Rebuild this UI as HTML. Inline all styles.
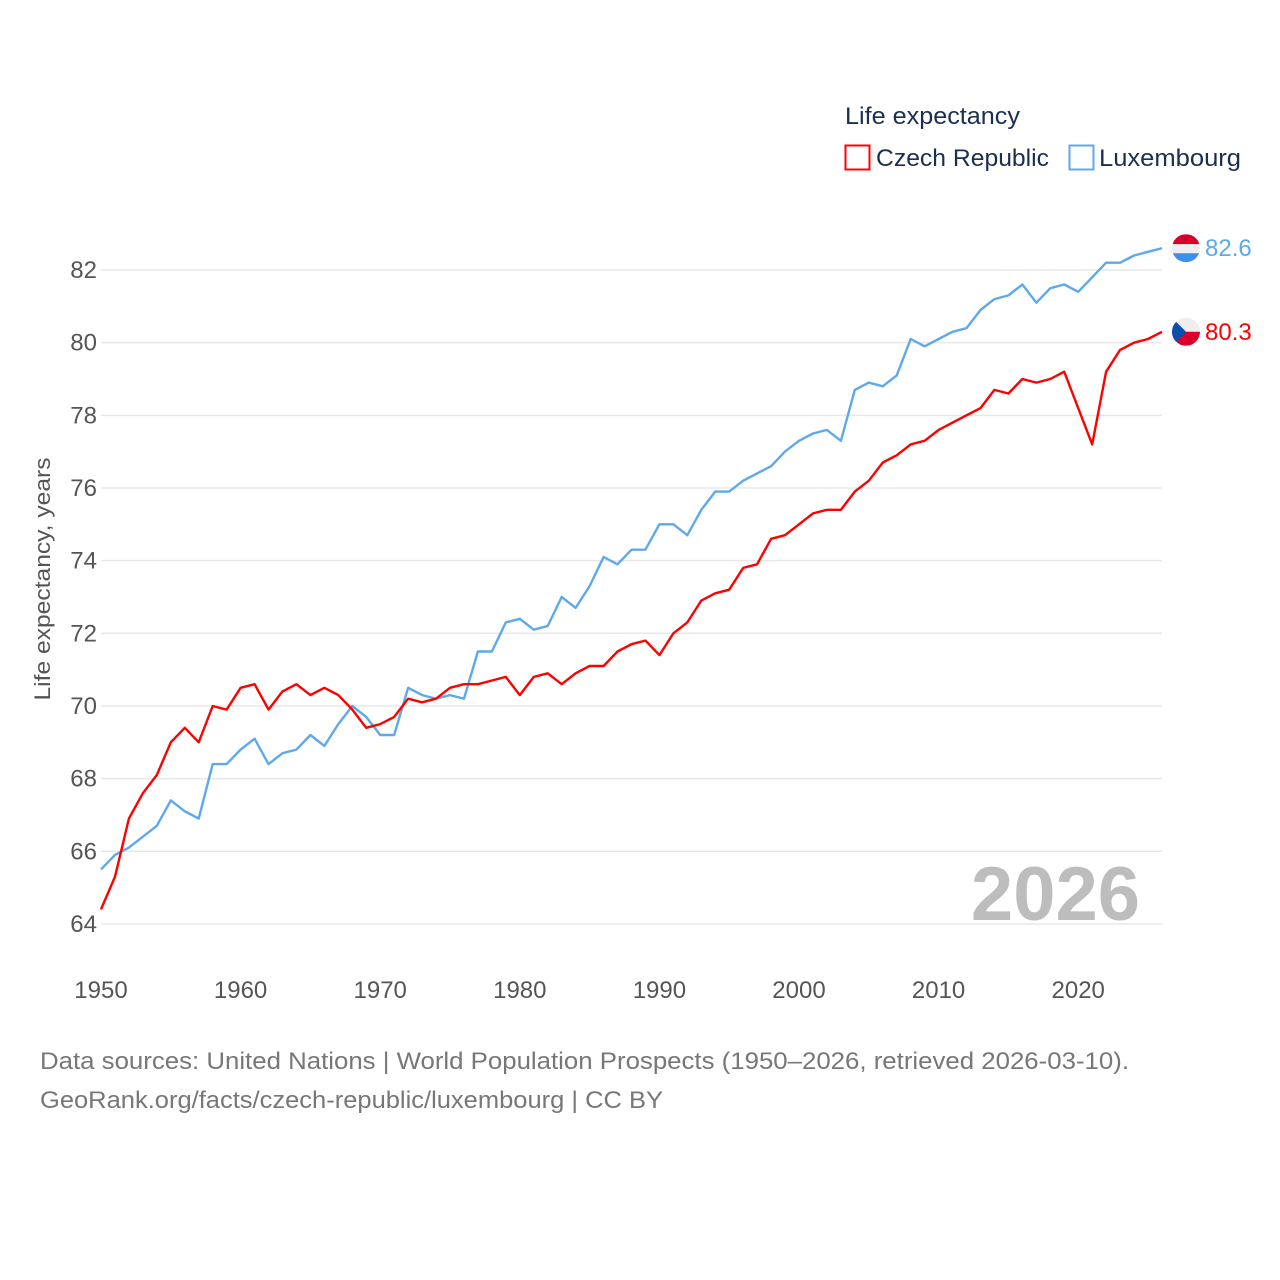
<!DOCTYPE html>
<html><head><meta charset="utf-8"><style>
body{margin:0;background:#fff;}
svg{display:block;font-family:"Liberation Sans",sans-serif;}
</style></head><body>
<svg id="chart" width="1280" height="1280" viewBox="0 0 1280 1280">
<g id="grid"></g>
<g id="yticks"></g>
<g id="xticks"></g>
<text x="1140" y="920" text-anchor="end" font-size="76" font-weight="bold" fill="#bdbdbd">2026</text>
<text transform="translate(50,579) rotate(-90)" text-anchor="middle" font-size="22" fill="#555" textLength="243" lengthAdjust="spacingAndGlyphs">Life expectancy, years</text>
<g id="lines"></g>
<g>
<text x="845" y="124" font-size="24" fill="#1b2f4f" textLength="175" lengthAdjust="spacingAndGlyphs">Life expectancy</text>
<rect x="845.5" y="145.5" width="24" height="24" fill="none" stroke="#ff0000" stroke-width="2"/>
<text x="876" y="166" font-size="24" fill="#1b2f4f" textLength="173" lengthAdjust="spacingAndGlyphs">Czech Republic</text>
<rect x="1069.5" y="145.5" width="24" height="24" fill="none" stroke="#5ea8ec" stroke-width="2"/>
<text x="1099" y="166" font-size="24" fill="#1b2f4f" textLength="142" lengthAdjust="spacingAndGlyphs">Luxembourg</text>
</g>
<text x="40" y="1069" font-size="24" fill="#777" textLength="1089" lengthAdjust="spacingAndGlyphs">Data sources: United Nations | World Population Prospects (1950–2026, retrieved 2026-03-10).</text>
<text x="40" y="1108" font-size="24" fill="#777" textLength="623" lengthAdjust="spacingAndGlyphs">GeoRank.org/facts/czech-republic/luxembourg | CC BY</text>
</svg>
<script>
const years=[];for(let y=1950;y<=2026;y++)years.push(y);
const czech=[64.4,65.3,66.9,67.6,68.1,69.0,69.4,69.0,70.0,69.9,70.5,70.6,69.9,70.4,70.6,70.3,70.5,70.3,69.9,69.4,69.5,69.7,70.2,70.1,70.2,70.5,70.6,70.6,70.7,70.8,70.3,70.8,70.9,70.6,70.9,71.1,71.1,71.5,71.7,71.8,71.4,72.0,72.3,72.9,73.1,73.2,73.8,73.9,74.6,74.7,75.0,75.3,75.4,75.4,75.9,76.2,76.7,76.9,77.2,77.3,77.6,77.8,78.0,78.2,78.7,78.6,79.0,78.9,79.0,79.2,78.2,77.2,79.2,79.8,80.0,80.1,80.3];
const luxembourg=[65.5,65.9,66.1,66.4,66.7,67.4,67.1,66.9,68.4,68.4,68.8,69.1,68.4,68.7,68.8,69.2,68.9,69.5,70.0,69.7,69.2,69.2,70.5,70.3,70.2,70.3,70.2,71.5,71.5,72.3,72.4,72.1,72.2,73.0,72.7,73.3,74.1,73.9,74.3,74.3,75.0,75.0,74.7,75.4,75.9,75.9,76.2,76.4,76.6,77.0,77.3,77.5,77.6,77.3,78.7,78.9,78.8,79.1,80.1,79.9,80.1,80.3,80.4,80.9,81.2,81.3,81.6,81.1,81.5,81.6,81.4,81.8,82.2,82.2,82.4,82.5,82.6];
const yTicks=[64,66,68,70,72,74,76,78,80,82];
const xTicks=[1950,1960,1970,1980,1990,2000,2010,2020];
const NS="http://www.w3.org/2000/svg";
function xs(y){return 101+(y-1950)*13.96;}
function ys(v){return 270+(82-v)*36.33;}
function mk(t,a,p){const e=document.createElementNS(NS,t);for(const k in a)e.setAttribute(k,a[k]);p.appendChild(e);return e;}
const grid=document.getElementById('grid'),yt=document.getElementById('yticks'),xt=document.getElementById('xticks'),lines=document.getElementById('lines');
yTicks.forEach(v=>{
 const l=mk('line',{x1:101,x2:1162,y1:ys(v),y2:ys(v),stroke:'#e8e8e8','stroke-width':1.5},grid);
 
 
 const t=mk('text',{x:97,y:ys(v)+8,'text-anchor':'end','font-size':24,fill:'#555'},yt);
 t.textContent=v;
 
 
});
xTicks.forEach(v=>{
 const t=mk('text',{x:xs(v),y:998,'text-anchor':'middle','font-size':24,fill:'#555'},xt);
 t.textContent=v;
 
 
});
function series(vals,color,name){
 const d=vals.map((v,i)=>(i?'L':'M')+xs(years[i]).toFixed(1)+','+ys(v).toFixed(1)).join('');
 const p=mk('path',{d:d,fill:'none',stroke:color,'stroke-width':2.4,'stroke-linejoin':'round'},lines);
 
 
 const last=vals[vals.length-1],cy=ys(last),cx=1186;
 const g=mk('g',{},lines);
 
 
 const cid='clip-'+name;
 const cp=mk('clipPath',{id:cid},g);mk('circle',{cx:cx,cy:cy,r:14},cp);
 const gg=mk('g',{'clip-path':'url(#'+cid+')'},g);
 if(name==='luxembourg'){
  mk('rect',{x:cx-14,y:cy-14,width:28,height:10,fill:'#d8002b'},gg);
  mk('rect',{x:cx-14,y:cy-4,width:28,height:9,fill:'#eee'},gg);
  mk('rect',{x:cx-14,y:cy+5,width:28,height:10,fill:'#3a8ff0'},gg);
 }else{
  mk('rect',{x:cx-14,y:cy-14,width:28,height:14,fill:'#eee'},gg);
  mk('rect',{x:cx-14,y:cy,width:28,height:14,fill:'#d8002b'},gg);
  mk('polygon',{points:(cx-14)+','+(cy-14)+' '+(cx)+','+cy+' '+(cx-14)+','+(cy+14),fill:'#0a4fb0'},gg);
 }
 const t=mk('text',{x:1205,y:cy+8,'font-size':24,fill:color},lines);
 t.textContent=last.toFixed(1);
 
 
}
series(luxembourg,'#5ea8ec','luxembourg');
series(czech,'#ff0000','czech');
</script>
</body></html>
